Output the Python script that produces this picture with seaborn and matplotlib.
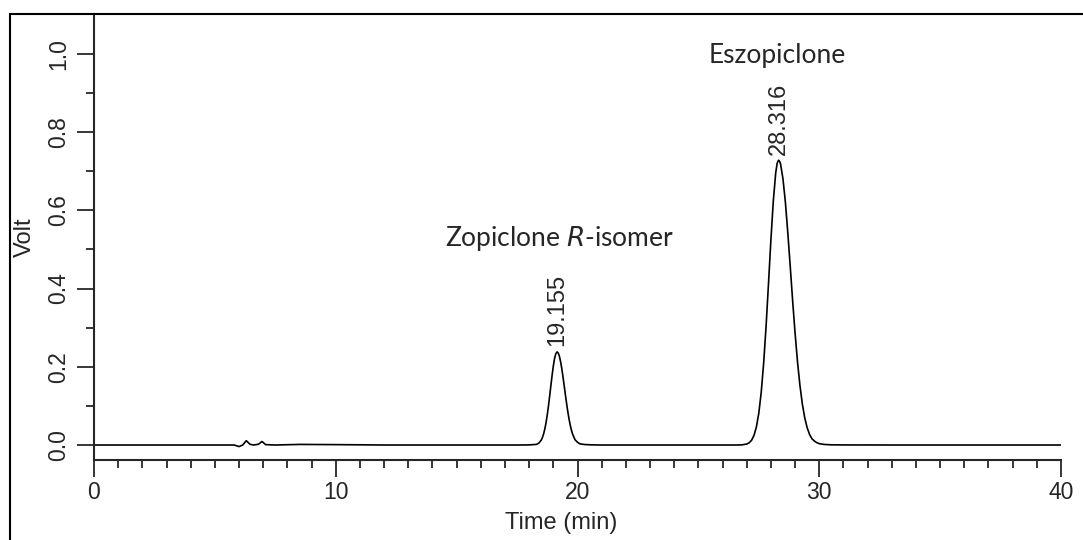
"""
Chiral HPLC chromatogram — zopiclone R-isomer vs eszopiclone.
"""

import matplotlib
matplotlib.use("Agg")
import matplotlib.pyplot as plt
from matplotlib.patches import Rectangle
from matplotlib.ticker import MultipleLocator
import pandas as pd
import seaborn as sns

# ── Trace ─────────────────────────────────────────────────────────────────────
time_min = [
    0, 2, 4, 5.8, 6.0, 6.15, 6.3, 6.45, 6.6, 6.8, 6.95, 7.1, 7.5, 8.5, 10, 12,
    14, 16, 17.5, 18.0, 18.3, 18.4, 18.5, 18.55, 18.6, 18.65, 18.7, 18.75,
    18.8, 18.85, 18.9, 18.95, 19.0, 19.05, 19.1, 19.155, 19.2, 19.25, 19.3,
    19.35, 19.4, 19.45, 19.5, 19.55, 19.6, 19.65, 19.7, 19.75, 19.8, 19.9,
    20.0, 20.1, 20.3, 20.6, 21, 23, 25, 26.5, 26.8, 27.0, 27.1, 27.2, 27.3,
    27.4, 27.5, 27.6, 27.7, 27.8, 27.9, 28.0, 28.1, 28.2, 28.26, 28.316,
    28.36, 28.4, 28.5, 28.6, 28.7, 28.8, 28.9, 29.0, 29.1, 29.2, 29.3, 29.4,
    29.5, 29.6, 29.7, 29.8, 29.9, 30.0, 30.2, 30.5, 31, 33, 36, 40,
]
volt = [
    0.0, 0.0, 0.0, 0.0, -0.004, 0.0, 0.011, 0.002, 0.0, 0.002, 0.009, 0.001,
    0.0, 0.0015, 0.001, 0.0, 0.0, 0.0, 0.0, 0.0003, 0.0016, 0.0048, 0.0125,
    0.0194, 0.0288, 0.0414, 0.0575, 0.0773, 0.1003, 0.1257, 0.1524, 0.1784,
    0.2018, 0.2207, 0.2331, 0.238, 0.2355, 0.2271, 0.2133, 0.1953, 0.1742,
    0.1513, 0.1281, 0.1057, 0.0849, 0.0665, 0.0507, 0.0377, 0.0273, 0.0133,
    0.007, 0.003, 0.0012, 0.0004, 0.0, 0.0, 0.0, 0.0, 0.0004, 0.0025, 0.0056,
    0.0121, 0.0245, 0.0462, 0.0815, 0.135, 0.209, 0.303, 0.412, 0.524, 0.624,
    0.696, 0.7206, 0.728, 0.7252, 0.718, 0.680, 0.620, 0.542, 0.456, 0.368,
    0.286, 0.213, 0.153, 0.105, 0.0694, 0.0441, 0.0269, 0.0158, 0.010, 0.006,
    0.0035, 0.0015, 0.0005, 0.0002, 0.0, 0.0, 0.0,
]

peak_rt     = [19.155, 28.316]
peak_height = [0.238, 0.728]
peak_labels = ["19.155", "28.316"]

# ── Style ──────────────────────────────────────────────────────────────────────
sns.set_style("ticks")
plt.rcParams["font.family"] = ["Liberation Sans", "DejaVu Sans"]

fig = plt.figure(figsize=(10.83, 5.40), dpi=100)
ax = fig.add_axes([94 / 1083, 1 - 460 / 540, 967 / 1083, 446 / 540])

df = pd.DataFrame({"Time (min)": time_min, "Volt": volt})
sns.lineplot(data=df, x="Time (min)", y="Volt", ax=ax, color="black",
             lw=1.2, estimator=None, sort=False)

ax.set_xlim(0, 40)
ax.set_ylim(-0.0383, 1.1016)

# ── Axes / ticks ───────────────────────────────────────────────────────────────
for side in ("top", "right"):
    ax.spines[side].set_visible(False)
for side in ("left", "bottom"):
    ax.spines[side].set_linewidth(1.5)

ax.xaxis.set_major_locator(MultipleLocator(10))
ax.xaxis.set_minor_locator(MultipleLocator(1))
ax.set_yticks([0.0, 0.2, 0.4, 0.6, 0.8, 1.0])
ax.set_yticks([0.1, 0.3, 0.5, 0.7, 0.9], minor=True)
ax.set_yticklabels(["0.0", "0.2", "0.4", "0.6", "0.8", "1.0"],
                   rotation=90, va="center")

ax.tick_params(which="major", length=12, width=1.1, labelsize=16.5, color="black")
ax.tick_params(which="minor", length=6, width=1.1, color="black")
ax.tick_params(axis="y", pad=5)
ax.tick_params(axis="x", pad=3)

ax.set_xlabel("Time (min)", fontsize=17)
ax.set_ylabel("Volt", fontsize=17)
ax.xaxis.label.set_va("center")
ax.yaxis.label.set_va("center")
ax.xaxis.set_label_coords((561 - 94) / 967, (460 - 523) / 446)
ax.yaxis.set_label_coords((25 - 94) / 967, 0.5)

# ── Peak annotations ───────────────────────────────────────────────────────────
for rt, h, lab in zip(peak_rt, peak_height, peak_labels):
    ax.annotate(lab, (rt, h), xytext=(0, 4), textcoords="offset points",
                rotation=90, ha="center", va="bottom", fontsize=17)

ax.text(14.52, 0.508, "Zopiclone $\\mathit{R}$-isomer", fontsize=19,
        family="Lato", ha="left", va="baseline")
ax.text(25.44, 0.9775, "Eszopiclone", fontsize=19, family="Lato",
        ha="left", va="baseline")

# outer frame around the figure
fig.patches.append(Rectangle((10 / 1083, -0.05), 1.2, 1.05 - 14 / 540,
                             transform=fig.transFigure, fill=False,
                             edgecolor="black", lw=1.5))

fig.savefig("out.png", dpi=100)
plt.close(fig)
